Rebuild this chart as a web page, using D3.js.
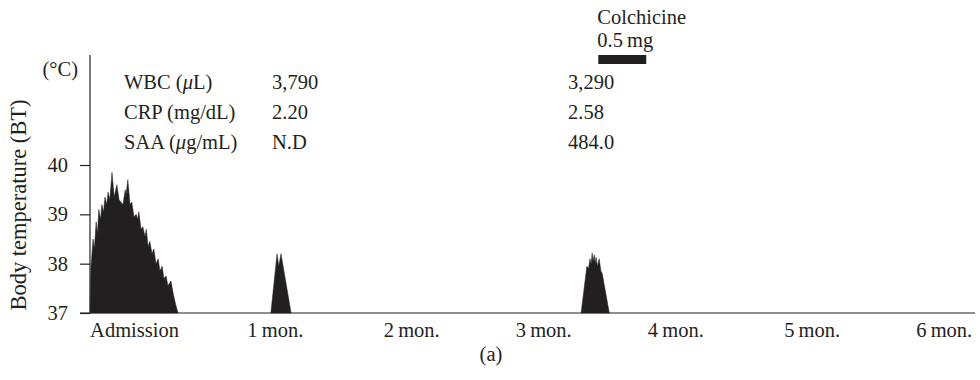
<!DOCTYPE html>
<html><head><meta charset="utf-8">
<script src="https://cdn.jsdelivr.net/npm/d3@7"></script>
<style>
html,body{margin:0;padding:0;background:#fff;}
svg text{font-family:"Liberation Serif","DejaVu Serif",serif;fill:#231f20;}
</style></head>
<body><svg id="c" width="980" height="380"></svg>
<script>
// ---- data ----
const feverDays = [0,0.2,0.7,1.0,1.4,1.7,2.0,2.4,2.7,3.1,3.4,3.8,4.1,4.5,5.0,5.5,6.1,6.6,7.0,7.5,8.0,8.2,8.6,9.1,9.5,10.0,10.5,10.8,11.1,11.6,12.0,12.5,12.8,13.2,13.6,14.1,14.5,15.0,15.5,15.9,16.4,16.8,17.3,17.7,18.4,18.9,19.4,20.0];
const feverTemps = [37.0,37.9,38.5,38.3,38.85,38.6,39.1,38.9,39.2,39.05,39.35,39.2,39.45,39.3,39.85,39.35,39.6,39.3,39.25,39.2,39.5,39.4,39.7,39.2,39.25,38.95,39.0,38.9,39.05,38.7,38.75,38.55,38.7,38.35,38.45,38.2,38.3,38.0,38.1,37.85,37.95,37.7,37.75,37.55,37.65,37.4,37.2,37.0];
const spike1Days = [41.1,42.5,42.9,43.4,45.7];
const spike1Temps = [37.0,38.2,37.95,38.2,37.0];
const spike2Days = [111.6,112.9,113.3,113.6,113.9,114.1,114.3,114.6,114.8,115.0,115.3,115.7,116.1,116.4,118.0];
const spike2Temps = [37.0,37.95,37.9,38.1,38.0,38.22,38.05,38.18,38.0,38.13,37.95,38.1,37.85,37.8,37.0];
const colchicineDays = [115.5, 126.4];
const tickDays = [10, 42, 73, 103, 133, 164, 194];
const tickLabels = ["Admission","1\u2009mon.","2\u2009mon.","3\u2009mon.","4\u2009mon.","5\u2009mon.","6\u2009mon."];
const yTicks = [37, 38, 39, 40];
const labRows = ["WBC", "CRP", "SAA"];
const labUnitsPre = ["(", "(mg/dL)", "("];
const labUnitsMu = ["\u03bc", "", "\u03bc"];
const labUnitsPost = ["L)", "", "g/mL)"];
const labAdmission = ["3,790", "2.20", "N.D"];
const labLater = ["3,290", "2.58", "484.0"];

// ---- layout ----
const svg = d3.select("#c");
const ink = "#231f20";
const fs = 20.5;
const x = d3.scaleLinear().domain([-2.27, 201.1]).range([80, 975]);
const y = d3.scaleLinear().domain([37, 42.23]).range([313, 55]);

const zip = (a, b) => a.map((d, i) => ({day: d, temp: b[i]}));
const area = d3.area().x(d => x(d.day)).y0(y(37)).y1(d => y(d.temp));
[zip(feverDays, feverTemps), zip(spike1Days, spike1Temps), zip(spike2Days, spike2Temps)].forEach(s => {
  svg.append("path").datum(s).attr("d", area).attr("fill", ink).attr("stroke", ink).attr("stroke-width", 0.5);
});

// y axis
const yAxis = d3.axisLeft(y).tickValues(yTicks).tickSize(10).tickPadding(12).tickFormat(d3.format("d"));
const gy = svg.append("g").attr("transform", `translate(${x(0)},0)`).call(yAxis);
gy.select(".domain").remove();
gy.selectAll("line").attr("stroke", ink).attr("stroke-width", 1.2);
gy.selectAll("text").attr("font-size", fs).style("font-family", '"Liberation Serif",serif').attr("fill", ink);
svg.append("line").attr("x1", x(0)).attr("x2", x(0)).attr("y1", y.range()[1]).attr("y2", y(37))
  .attr("stroke", ink).attr("stroke-width", 1.2);

// x axis
svg.append("line").attr("x1", x.range()[0]).attr("x2", x.range()[1]).attr("y1", y(37)).attr("y2", y(37))
  .attr("stroke", ink).attr("stroke-width", 1.2);
const xAxis = d3.axisBottom(x).tickValues(tickDays).tickSize(0).tickPadding(9).tickFormat((d, i) => tickLabels[i]);
const gx = svg.append("g").attr("transform", `translate(0,${y(37)})`).call(xAxis);
gx.select(".domain").remove();
gx.selectAll("text").attr("font-size", fs).style("font-family", '"Liberation Serif",serif').attr("fill", ink);

// titles
svg.append("text").attr("transform", "translate(26,205) rotate(-90)").attr("text-anchor", "middle")
  .attr("font-size", 22.5).text("Body temperature (BT)");
svg.append("text").attr("x", 78).attr("y", 76).attr("text-anchor", "end").attr("font-size", fs).text("(\u00b0C)");
svg.append("text").attr("x", 491).attr("y", 361).attr("text-anchor", "middle").attr("font-size", fs).text("(a)");

// lab table
labRows.forEach((r, i) => {
  const yy = 89 + i * 30;
  const t = svg.append("text").attr("x", 124).attr("y", yy).attr("font-size", fs);
  t.append("tspan").text(r + " " + labUnitsPre[i]);
  if (labUnitsMu[i]) t.append("tspan").attr("font-style", "italic").text(labUnitsMu[i]);
  if (labUnitsPost[i]) t.append("tspan").text(labUnitsPost[i]);
  svg.append("text").attr("x", 272).attr("y", yy).attr("font-size", fs).text(labAdmission[i]);
  svg.append("text").attr("x", 568).attr("y", yy).attr("font-size", fs).text(labLater[i]);
});

// colchicine
svg.append("text").attr("x", x(colchicineDays[0]) - 1).attr("y", 24).attr("font-size", fs).text("Colchicine");
svg.append("text").attr("x", x(colchicineDays[0]) - 1).attr("y", 47).attr("font-size", fs).text("0.5\u2009mg");
svg.append("rect").attr("x", x(colchicineDays[0])).attr("width", x(colchicineDays[1]) - x(colchicineDays[0]))
  .attr("y", 55).attr("height", 9).attr("fill", ink);
</script></body></html>
